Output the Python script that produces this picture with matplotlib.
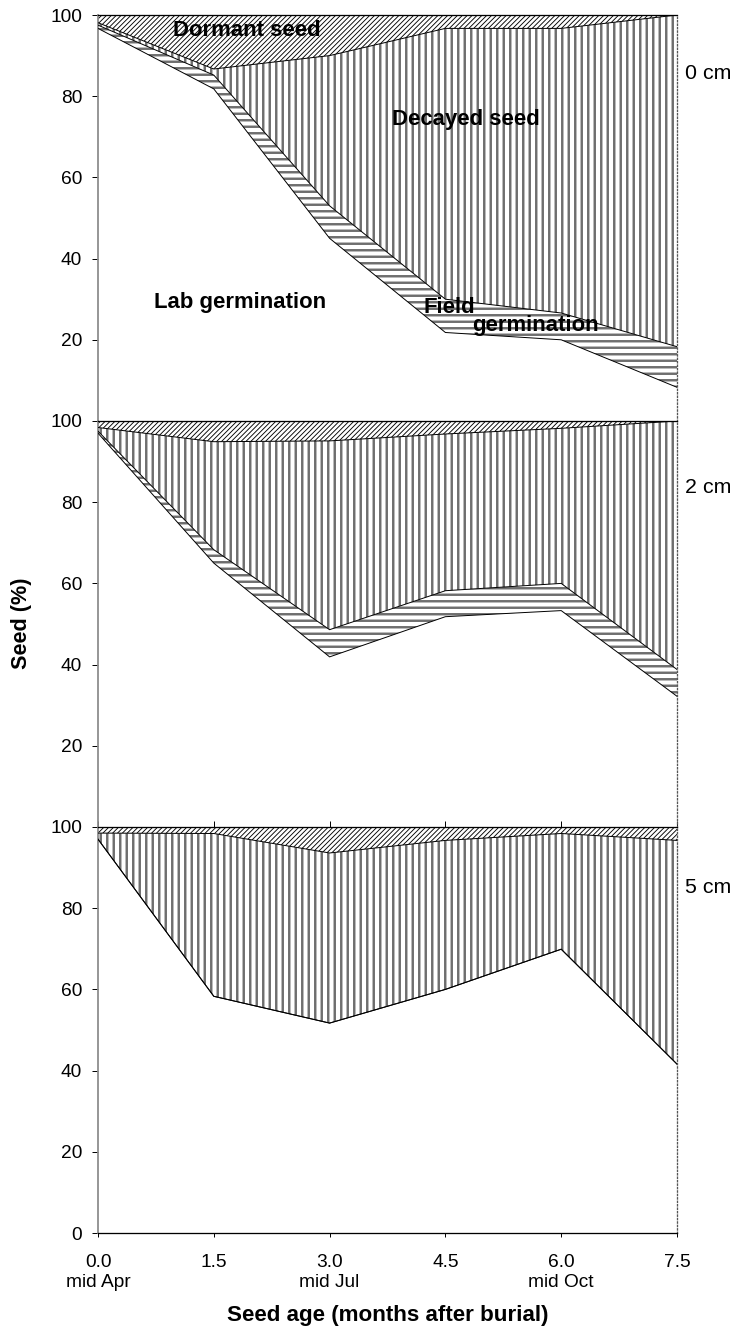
import numpy as np
import matplotlib
matplotlib.use("Agg")
import matplotlib.pyplot as plt

plt.rcParams["font.family"] = ["Liberation Sans", "DejaVu Sans"]

# months after burial and the tick text under them
months = [0.0, 1.5, 3.0, 4.5, 6.0, 7.5]
month_labels = ["0.0\nmid Apr", "1.5", "3.0\nmid Jul", "4.5", "6.0\nmid Oct", "7.5"]
depths = ["0 cm", "2 cm", "5 cm"]

# seed fate (%) at each burial depth, stacked from the bottom up
lab_0 = [96.7, 81.8, 45.0, 21.8, 20.0, 8.3]
field_0 = [0.8, 3.4, 8.0, 8.2, 6.6, 10.0]
decayed_0 = [0.6, 1.5, 37.0, 66.7, 70.1, 81.7]
dormant_0 = [1.9, 13.3, 10.0, 3.3, 3.3, 0.0]

lab_2 = [97.0, 65.0, 41.9, 51.8, 53.3, 32.2]
field_2 = [0.5, 3.3, 6.7, 6.4, 6.7, 6.6]
decayed_2 = [0.9, 26.6, 46.5, 38.6, 38.2, 61.2]
dormant_2 = [1.6, 5.1, 4.9, 3.2, 1.8, 0.0]

lab_5 = [97.0, 58.3, 51.7, 60.0, 69.9, 41.6]
field_5 = [0.0, 0.0, 0.0, 0.0, 0.0, 0.0]
decayed_5 = [1.5, 40.1, 41.9, 36.7, 28.5, 55.1]
dormant_5 = [1.5, 1.6, 6.4, 3.3, 1.6, 3.3]

panels = [
    (lab_0, field_0, decayed_0, dormant_0),
    (lab_2, field_2, decayed_2, dormant_2),
    (lab_5, field_5, decayed_5, dormant_5),
]

# hatch, hatch colour, hatch width for each layer (lab germination is plain white)
styles = [
    (None, "white", 0.0),
    ("---", "#6e6e6e", 1.5),
    ("|||", "#6e6e6e", 1.5),
    ("////////", "black", 0.55),
]

DPI = 117
W, H = 734, 1329
fig = plt.figure(figsize=(W / DPI, H / DPI), dpi=DPI)

left, width = 98 / W, 579 / W
height = 406 / H
bottoms = [1 - 421 / H, 1 - 827 / H, 1 - 1233 / H]
depth_y = [0.857, 0.835, 0.850]

x = np.array(months)
for i, layers in enumerate(panels):
    ax = fig.add_axes([left, bottoms[i], width, height])
    base = np.zeros(len(months))
    bounds = []
    for vals, (hatch, hcol, hlw) in zip(layers, styles):
        top = base + np.array(vals)
        with plt.rc_context({"hatch.linewidth": max(hlw, 0.1), "hatch.color": hcol}):
            coll = ax.fill_between(x, base, top, facecolor="white",
                                   edgecolor=hcol, hatch=hatch, linewidth=0)
        if hatch and hasattr(coll, "set_hatch_linewidth"):
            coll.set_hatch_linewidth(hlw)
        bounds.append(top)
        base = top
    # outline every layer boundary except the 100 % line
    for b in bounds[:-1]:
        ax.plot(x, b, color="black", lw=0.6, zorder=3)

    ax.set_xlim(0, 7.5)
    ax.set_ylim(0, 100)
    if i < 2:
        ax.set_yticks([20, 40, 60, 80, 100])
    else:
        ax.set_yticks([0, 20, 40, 60, 80, 100])
    ax.tick_params(axis="y", direction="out", length=3.7, width=0.6,
                   labelsize=11.8, pad=6)

    ax.spines["top"].set_color("black")
    ax.spines["top"].set_linewidth(0.8)
    ax.spines["left"].set_color("#8c8c8c")
    ax.spines["left"].set_linewidth(1.1)
    ax.spines["right"].set_color("#555555")
    ax.spines["right"].set_linestyle(":")
    ax.spines["right"].set_linewidth(0.8)

    ax.set_xticks(months)
    if i == 2:
        ax.spines["bottom"].set_color("black")
        ax.spines["bottom"].set_linewidth(0.8)
        ax.set_xticklabels(month_labels)
        ax.tick_params(axis="x", direction="out", length=2.5, width=0.6,
                       labelsize=11.8, pad=10.5)
    else:
        ax.spines["bottom"].set_visible(False)
        ax.set_xticklabels([])
        if i == 1:
            ax.tick_params(axis="x", direction="in", length=3.5, width=0.6)
        else:
            ax.tick_params(axis="x", bottom=False)

    ax.text(1.014, depth_y[i], depths[i], transform=ax.transAxes,
            fontsize=13.2, ha="left", va="center")

    if i == 0:
        kw = dict(fontsize=13.6, fontweight="bold", ha="center", va="center", zorder=5)
        ax.text(1.93, 96.3, "Dormant seed", **kw)
        ax.text(4.77, 74.2, "Decayed seed", **kw)
        ax.text(1.84, 29.2, "Lab germination", **kw)
        ax.text(4.55, 28.0, "Field", **kw)
        ax.text(5.67, 23.6, "germination", **kw)

fig.text(0.5 * (98 + 677) / W, 1 - 1315 / H, "Seed age (months after burial)",
         fontsize=13.8, fontweight="bold", ha="center", va="center")
fig.text(22 / W, 1 - 623 / H, "Seed (%)", fontsize=13.3, fontweight="bold",
         rotation=90, ha="center", va="center")

fig.savefig("out.png", dpi=DPI)
